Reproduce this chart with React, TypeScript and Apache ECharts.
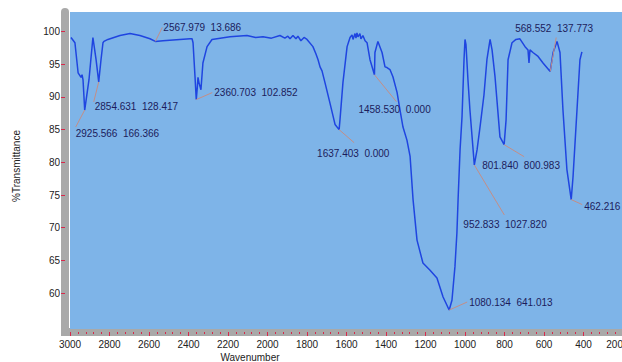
import React, { useEffect, useRef } from "react";
import * as echarts from "echarts";

// Spectrum: [wavenumber (cm-1), %Transmittance]
const spectrum: number[][] = [
  [2995, 99.1], [2975, 98.3], [2959, 93.7], [2944, 93.0], [2939, 93.4], [2934, 92.6],
  [2925.566, 88.0], [2904, 92.6], [2884, 99.1], [2868, 95.7], [2854.631, 92.3],
  [2843, 95.7], [2833, 98.3], [2828, 98.5], [2808, 98.8], [2747, 99.4], [2696, 99.7],
  [2646, 99.4], [2595, 98.9], [2567.979, 98.5], [2529, 98.6], [2392, 98.9], [2382, 98.9],
  [2377, 98.3], [2367, 93.1], [2360.703, 89.6], [2355, 91.6], [2352, 93.0], [2347, 92.2],
  [2337, 91.1], [2327, 95.2], [2306, 97.7], [2281, 98.8], [2190, 99.2], [2104, 99.4],
  [2060, 99.1], [2023, 99.2], [1980, 99.0], [1937, 99.4], [1912, 99.0], [1897, 99.3],
  [1886, 98.9], [1871, 99.4], [1856, 98.9], [1846, 99.3], [1831, 98.6], [1815, 99.1],
  [1800, 98.8], [1770, 97.7], [1755, 96.6], [1744, 95.7], [1734, 94.6], [1724, 94.0],
  [1709, 92.2], [1684, 89.1], [1658, 85.8], [1637.403, 85.0], [1633, 86.5], [1618, 92.2],
  [1597, 97.7], [1582, 99.1], [1572, 99.5], [1567, 98.8], [1557, 99.7], [1552, 99.0],
  [1547, 99.8], [1542, 99.2], [1532, 99.7], [1527, 98.9], [1517, 99.4], [1506, 98.6],
  [1496, 98.3], [1481, 95.7], [1458.530, 93.4], [1456, 96.8], [1441, 98.5], [1420, 96.8],
  [1405, 94.6], [1395, 94.5], [1380, 94.2], [1365, 93.1], [1344, 90.7], [1329, 88.0],
  [1314, 85.4], [1294, 83.4], [1278, 80.9], [1263, 74.3], [1243, 68.1], [1213, 64.6],
  [1177, 63.5], [1142, 62.3], [1111, 59.4], [1080.134, 57.4], [1066, 58.9], [1051, 64.0],
  [1041, 69.2], [1035, 74.3], [1025, 81.9], [1015, 87.0], [1005, 95.7], [1000, 98.8],
  [995, 98.0], [985, 92.6], [975, 88.0], [952.833, 79.6], [939, 81.9], [924, 85.4],
  [904, 90.3], [889, 95.7], [873, 98.8], [863, 97.2], [848, 93.1], [823, 83.9],
  [801.840, 82.7], [792, 86.5], [782, 95.7], [762, 98.3], [742, 98.8], [722, 98.9],
  [696, 97.7], [681, 97.2], [676, 95.2], [671, 97.2], [656, 96.8], [630, 96.2],
  [605, 95.2], [568.552, 93.9], [554, 96.8], [534, 98.5], [519, 96.8], [504, 88.0],
  [484, 78.9], [462.216, 74.3], [453, 77.8], [433, 88.0], [418, 95.7], [408, 96.9],
];

// Peak annotations
const peakWavenumbers = [2925.566, 2854.631, 2567.979, 2360.703, 1637.403, 1458.530, 1080.134, 952.833, 801.840, 568.552, 462.216];
const peakSecondValues: (number | null)[] = [166.366, 128.417, 13.686, 102.852, 0.0, 0.0, 641.013, 1027.82, 800.983, 137.773, null];
const peakTransmittance = [88.0, 92.3, 98.5, 89.6, 85.0, 93.4, 57.4, 79.6, 82.7, 93.9, 74.3];

const yTickValues = [60, 65, 70, 75, 80, 85, 90, 95, 100];

// Label layout (pixel offsets from the peak): leader end [lx, ly], text [tx, ty]
const labelLayout: number[][] = [
  [-9, 17, -9, 23],
  [-5, 20, -4, 25],
  [7, -14, 8, -14],
  [16, -7, 18, -7],
  [15, 13, -22, 24],
  [22, 27, -16, 35],
  [18, -8, 20, -8],
  [30, 50, -11, 60],
  [20, 12, -22, 21],
  [6, -34, -35, -43],
  [11, 5, 13, 7],
];

const FONT = "'Liberation Sans', Arial, sans-serif";

export default function App() {
  const ref = useRef<HTMLDivElement>(null);
  useEffect(() => {
    if (!ref.current) return;
    const chart = echarts.init(ref.current, undefined, { renderer: "svg" });
    const annData = peakWavenumbers.map((w, i) => [w, peakTransmittance[i], i]);
    chart.setOption({
      animation: false,
      backgroundColor: "#ffffff",
      grid: {
        left: 70,
        top: 12,
        width: 553,
        bottom: 33,
        show: true,
        backgroundColor: "#7eb4e8",
        borderWidth: 0,
        containLabel: false,
        outerBoundsMode: "none",
      },
      xAxis: {
        type: "value",
        inverse: true,
        min: 200,
        max: 3000,
        interval: 200,
        offset: 3,
        axisLine: { show: true, lineStyle: { color: "#a9a9a9", width: 7 } },
        axisTick: { show: true, length: 4, lineStyle: { color: "#d8284a", width: 1 } },
        minorTick: { show: true, splitNumber: 5, length: 2, lineStyle: { color: "#d8284a", width: 1 } },
        splitLine: { show: false },
        axisLabel: {
          color: "#222", fontSize: 10, fontFamily: FONT, margin: 7,
          showMinLabel: true, showMaxLabel: true,
          alignMinLabel: "right",
          formatter: (v: number) => String(v),
        },
      },
      yAxis: {
        type: "value",
        min: 54.5,
        max: 103,
        offset: 5,
        axisLine: { show: true, lineStyle: { color: "#a9a9a9", width: 8 } },
        axisTick: { show: true, length: 4, customValues: yTickValues, lineStyle: { color: "#d8284a", width: 1 } },
        splitLine: { show: false },
        axisLabel: {
          color: "#222", fontSize: 10, fontFamily: FONT, margin: 5, customValues: yTickValues,
          formatter: (v: number) => String(v),
        },
      },
      graphic: [
        {
          type: "rect",
          shape: { x: 61, y: 328, width: 9, height: 8 },
          style: { fill: "#a9a9a9" },
        },
        {
          type: "text",
          x: 16,
          y: 166,
          rotation: Math.PI / 2,
          style: { text: "%Transmittance", fill: "#222", fontSize: 10, fontFamily: FONT, align: "center", verticalAlign: "middle" },
        },
        {
          type: "text",
          x: 250,
          y: 357,
          style: { text: "Wavenumber", fill: "#222", fontSize: 10, fontFamily: FONT, align: "center", verticalAlign: "middle" },
        },
      ],
      series: [
        {
          type: "line",
          data: spectrum,
          symbol: "none",
          lineStyle: { color: "#1f45e0", width: 1.5 },
          z: 3,
        },
        {
          type: "custom",
          data: annData,
          clip: false,
          z: 4,
          renderItem: (params: any, api: any) => {
            const i = params.dataIndex;
            const p = api.coord([api.value(0), api.value(1)]);
            const [lx, ly, tx, ty] = labelLayout[i];
            const sec = peakSecondValues[i];
            const text = peakWavenumbers[i].toFixed(3) + (sec === null ? "" : "  " + sec.toFixed(3));
            return {
              type: "group",
              children: [
                {
                  type: "line",
                  shape: { x1: p[0], y1: p[1], x2: p[0] + lx, y2: p[1] + ly },
                  style: { stroke: "#c48e86", lineWidth: 1 },
                },
                {
                  type: "text",
                  x: p[0] + tx,
                  y: p[1] + ty,
                  style: { text, fill: "#1c1c5c", fontSize: 10, fontFamily: FONT, align: "left", verticalAlign: "middle" },
                },
              ],
            };
          },
        },
      ],
    });
    return () => chart.dispose();
  }, []);
  return (
    <div
      ref={ref}
      style={{ position: "absolute", left: 0, top: 0, width: 622, height: 362, background: "#fff" }}
    />
  );
}
